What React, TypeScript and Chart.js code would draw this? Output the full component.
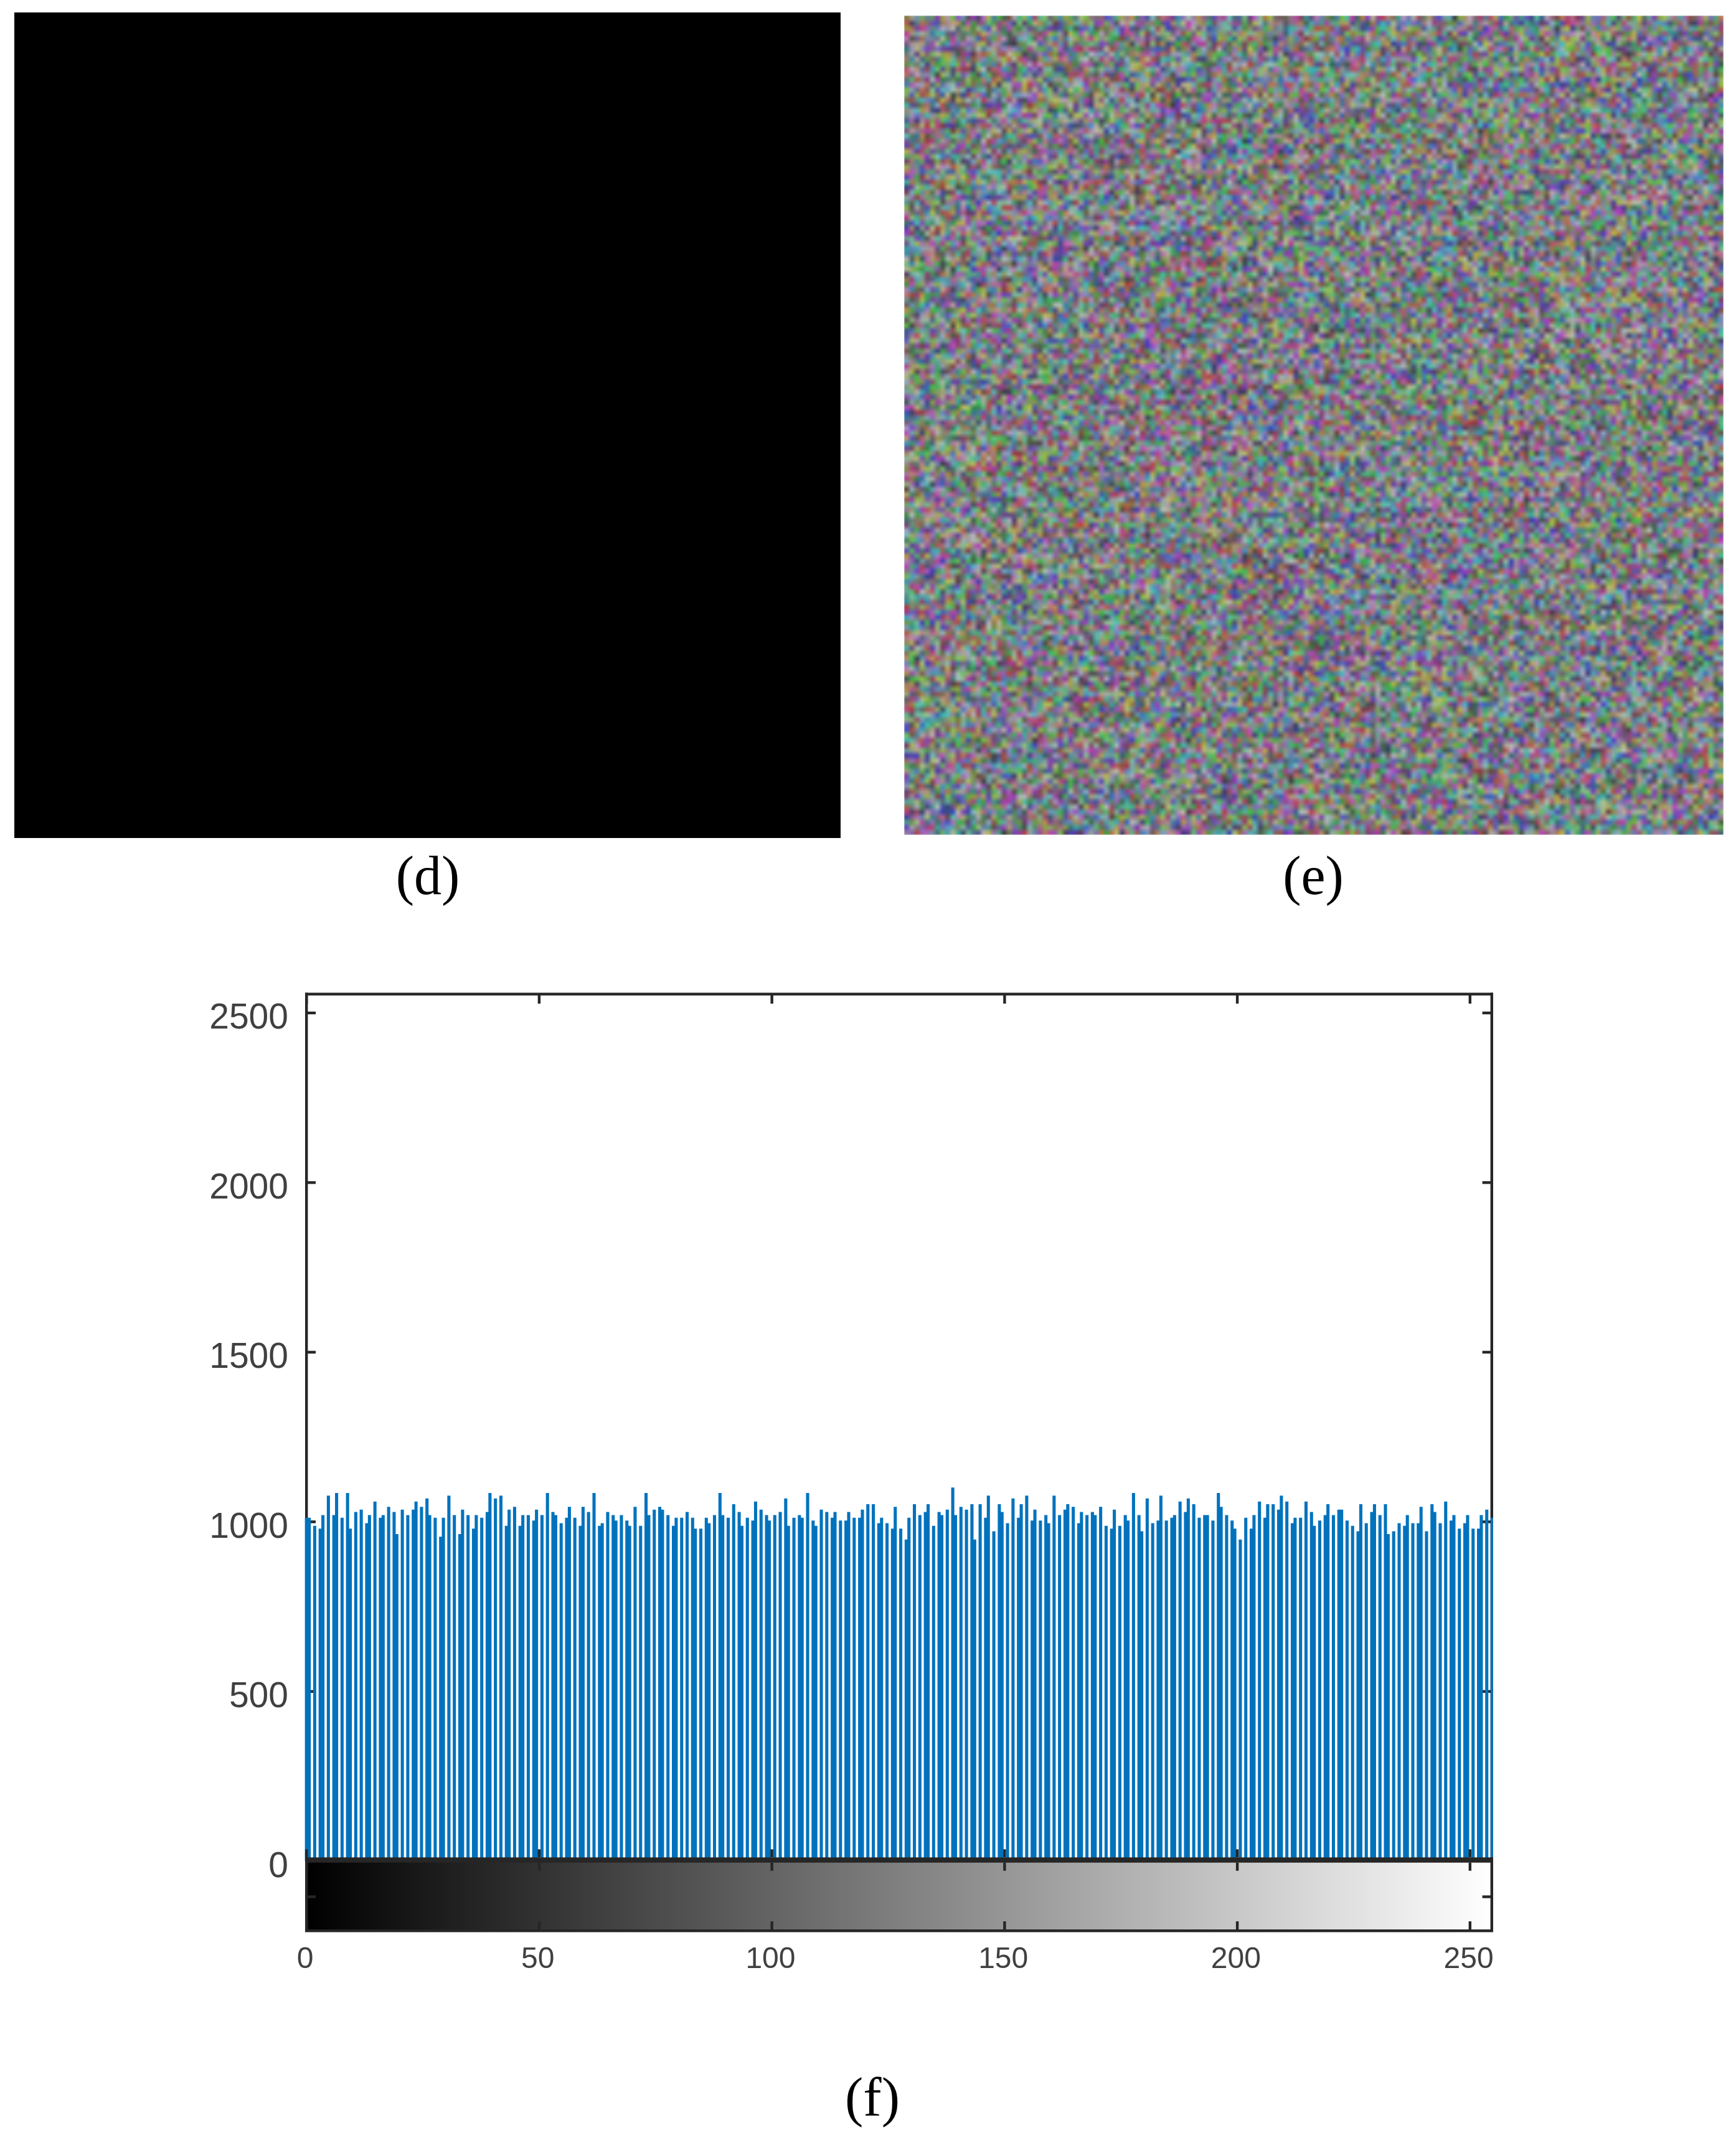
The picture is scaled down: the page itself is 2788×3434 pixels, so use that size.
import React, { useEffect, useRef } from "react";
import { Chart, registerables } from "chart.js";

Chart.register(...registerables);

// Counts per grey level (0..255).
const counts: number[] = [
  1011,1011,987,979,1019,1076,1019,1084,1011,1084,
  979,1028,1035,995,1019,1059,1011,1019,1043,1028,
  963,1035,1019,1035,1059,1043,1068,1019,1011,955,
  1011,1076,1019,963,1035,1019,979,1019,1011,1028,
  1084,1068,1076,987,1035,1043,987,1019,1019,1003,
  1035,1019,1084,1028,1019,995,1011,1043,1011,987,
  1043,1028,1084,987,995,1028,1019,1003,1019,1003,
  987,1043,987,1084,1019,1035,1043,1035,1019,987,
  1011,1011,1028,1011,979,979,1011,995,1019,1084,
  1019,1011,1051,1028,987,1011,1003,1059,1035,1019,
  1003,1019,1028,1068,987,1011,1019,1011,1084,1003,
  987,1035,1028,1011,1028,1003,1003,1028,1011,1011,
  1035,1051,1051,995,1011,995,979,1043,979,947,
  1011,1051,1019,1028,1051,987,1028,1019,1035,1100,
  1019,1043,1035,1051,947,1051,1011,1076,971,1051,
  1028,995,1068,1011,1051,1076,1003,1035,1003,1019,
  995,1076,1019,1035,1051,1043,995,1028,1019,1028,
  1019,1043,987,979,1035,987,1019,1003,1084,1019,
  971,1068,995,1003,1076,1003,1011,1019,1059,1028,
  1068,1051,1011,1019,1019,1003,1084,1043,1019,1003,
  979,947,1011,979,1019,1059,1011,1051,1051,1035,
  1076,1059,995,1011,1011,1059,1028,987,1003,1019,
  1051,1019,1035,1035,1003,987,971,1051,995,1028,
  1051,1019,1051,963,971,995,987,1019,995,995,
  1043,971,1051,1028,995,1059,1003,1019,979,995,
  1019,979,979,1019,1035,1011,
];

const greyLevels: string[] = counts.map((_, i) => String(i));
const xTickValues: number[] = [0, 50, 100, 150, 200, 250];
const yTickValues: number[] = [0, 500, 1000, 1500, 2000, 2500];
const yAxisMin = -205.5; // the grey ramp hangs below zero in the imhist layout
const yAxisMax = 2554.6;
const captions: [string, number, number][] = [
  ["(d)", 687, 1433],
  ["(e)", 2109, 1433],
  ["(f)", 1401, 3395],
];

const BAR = "#0072BD";
const INK = "#262626";
const LABEL = "#404040";
const COL = 4.398; // width of one raster column in the reference panel
const LW = 4.4;
const TICK = 13;

const framePlugin = {
  id: "imhistFrame",
  beforeDatasetsDraw(chart: any) {
    const { ctx, chartArea: a, scales } = chart;
    const x0 = scales.x.getPixelForValue(0);
    // snap each bar to the raster column grid of the panel
    chart.getDatasetMeta(0).data.forEach((bar: any, i: number) => {
      const px = scales.x.getPixelForValue(i);
      const col = Math.floor((px - x0) / COL + 1e-6);
      bar.x = x0 + 0.2 + col * COL;
    });
    const zero = scales.y.getPixelForValue(0);
    ctx.save();
    ctx.fillStyle = INK;
    ctx.fillRect(a.left - 2, a.top - 2.5, a.right - a.left + 2, LW); // top
    ctx.fillRect(a.left - 2, a.top - 2.5, LW, zero - a.top); // left
    ctx.fillRect(a.right - LW, a.top - 2.5, LW, zero - a.top); // right
    for (const v of yTickValues) {
      const y = scales.y.getPixelForValue(v);
      ctx.fillRect(a.left, y - 2, TICK + 2, LW);
      ctx.fillRect(a.right - LW - TICK, y - 2, TICK + 1, LW);
    }
    for (const v of xTickValues) {
      const x = scales.x.getPixelForValue(v);
      ctx.fillRect(x - 2, a.top, LW, TICK + 2);
    }
    ctx.restore();
  },
  afterDatasetsDraw(chart: any) {
    const { ctx, chartArea: a, scales } = chart;
    const zero = scales.y.getPixelForValue(0);
    const bandTop = zero - 5.7;
    const bandH = 8.4;
    ctx.save();
    ctx.fillStyle = INK;
    ctx.fillRect(a.left - 2, bandTop, a.right - a.left + 2, bandH); // thick seam between axes
    ctx.fillRect(a.left - 2, bandTop, LW, a.bottom + 2 - bandTop); // colourbar left
    ctx.fillRect(a.right - LW, bandTop, LW, a.bottom + 2 - bandTop); // colourbar right
    ctx.fillRect(a.left - 2, a.bottom - 2, a.right - a.left + 2, LW); // colourbar bottom
    const mid = (bandTop + bandH + a.bottom) / 2;
    ctx.fillRect(a.left, mid - 2, TICK + 2, LW);
    ctx.fillRect(a.right - LW - TICK, mid - 2, TICK + 1, LW);
    for (const v of xTickValues) {
      const x = scales.x.getPixelForValue(v);
      ctx.fillRect(x - 2, bandTop - TICK, LW, TICK);
      ctx.fillRect(x - 2, bandTop + bandH, LW, TICK);
      ctx.fillRect(x - 2, a.bottom - 2 - TICK, LW, TICK);
    }
    ctx.restore();
  },
};

function paintNoise(canvas: HTMLCanvasElement) {
  // Panel (e) is a cipher image, not chart data: a deterministic hash texture stands in for it.
  const n = canvas.width;
  const ctx = canvas.getContext("2d")!;
  const img = ctx.createImageData(n, n);
  let s = 20231;
  const next = () => {
    s = (Math.imul(s, 1664525) + 1013904223) >>> 0;
    return (s >>> 16) & 255;
  };
  for (let i = 0; i < n * n; i++) {
    img.data[i * 4] = 128 + (next() - 128) * 0.55 - 6;
    img.data[i * 4 + 1] = 128 + (next() - 128) * 0.55 - 2;
    img.data[i * 4 + 2] = 128 + (next() - 128) * 0.55 + 2;
    img.data[i * 4 + 3] = 255;
  }
  ctx.putImageData(img, 0, 0);
}

export default function App() {
  const ref = useRef<HTMLCanvasElement>(null);
  const noise = useRef<HTMLCanvasElement>(null);

  useEffect(() => {
    if (noise.current) paintNoise(noise.current);
    const chart = new Chart(ref.current!, {
      type: "bar",
      data: {
        labels: greyLevels,
        datasets: [
          {
            data: counts,
            backgroundColor: BAR,
            barThickness: COL,
            order: 1,
            clip: { left: 3, right: 0, top: false, bottom: false },
          } as any,
          {
            data: greyLevels.map(() => [yAxisMin, 0]),
            backgroundColor: greyLevels.map((_, i) => `rgb(${i},${i},${i})`),
            barThickness: 8.5,
            order: 2,
          } as any,
        ],
      },
      options: {
        responsive: false,
        animation: false,
        events: [],
        layout: { padding: { top: 1597, right: 390, left: 0, bottom: 0 } },
        plugins: { legend: { display: false }, tooltip: { enabled: false }, title: { display: false } },
        datasets: { bar: { grouped: false, borderWidth: 0 } },
        scales: {
          x: {
            type: "category",
            offset: false,
            grid: { display: false, drawTicks: false },
            border: { display: false },
            afterBuildTicks: (s: any) => {
              s.ticks = s.ticks.filter((t: any) => xTickValues.includes(t.value));
            },
            afterFit: (s: any) => {
              s.height = 333;
            },
            ticks: {
              autoSkip: false,
              maxRotation: 0,
              minRotation: 0,
              color: LABEL,
              padding: 18,
              labelOffset: -2,
              font: { family: "Liberation Sans", size: 48 },
            },
          },
          y: {
            type: "linear",
            min: yAxisMin,
            max: yAxisMax,
            grid: { display: false, drawTicks: false },
            border: { display: false },
            afterBuildTicks: (s: any) => {
              s.ticks = yTickValues.map((value) => ({ value }));
            },
            afterFit: (s: any) => {
              s.width = 492;
            },
            ticks: {
              color: LABEL,
              padding: 29,
              labelOffset: 10,
              callback: (v: any) => String(v),
              font: { family: "Liberation Sans", size: 57 },
            },
          },
        },
      } as any,
      plugins: [framePlugin],
    });
    return () => chart.destroy();
  }, []);

  return (
    <div style={{ position: "absolute", left: 0, top: 0, width: 2788, height: 3434, background: "#fff", overflow: "hidden" }}>
      <canvas ref={ref} width={2788} height={3434} style={{ position: "absolute", left: 0, top: 0, width: 2788, height: 3434 }} />
      <div style={{ position: "absolute", left: 23, top: 20, width: 1327, height: 1326, background: "#000" }} />
      <div style={{ position: "absolute", left: 1452, top: 25, width: 1316, height: 1316, overflow: "hidden" }}>
        <canvas ref={noise} width={160} height={160} style={{ display: "block", width: 1316, height: 1316, filter: "blur(1.2px)" }} />
      </div>
      {captions.map(([text, cx, baseline]) => (
        <div
          key={text}
          style={{
            position: "absolute",
            left: cx,
            top: baseline - 76,
            transform: "translateX(-50%)",
            font: "88px/100px 'Liberation Serif'",
            color: "#000",
            whiteSpace: "nowrap",
          }}
        >
          {text}
        </div>
      ))}
    </div>
  );
}
